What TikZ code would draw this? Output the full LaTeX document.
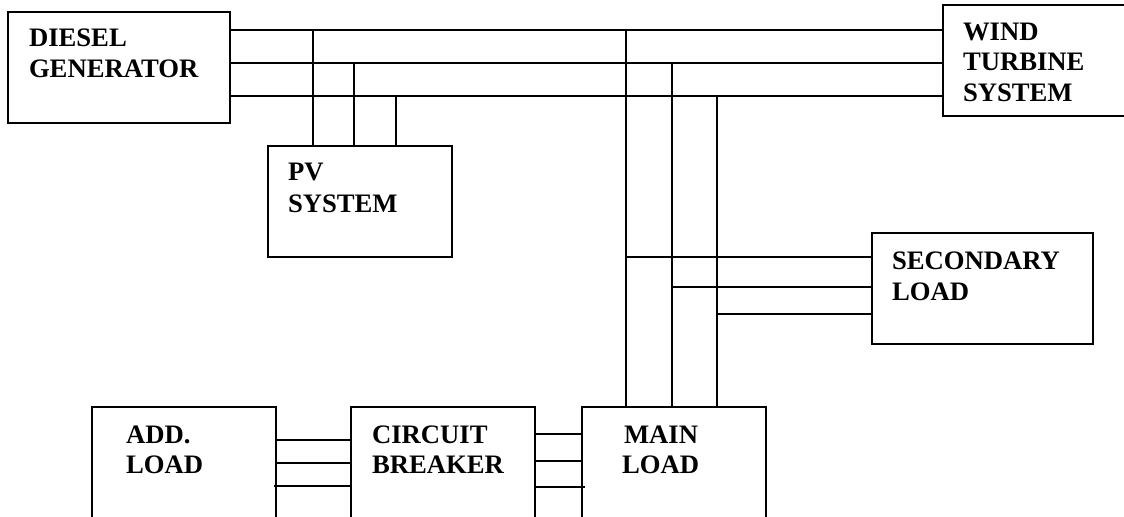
\documentclass[tikz,border=0pt]{standalone}
\usepackage{fontspec}
\setmainfont{Liberation Serif}
\tikzset{
  blockbox/.style n args={2}{draw=black,line width=1.2pt,rectangle,anchor=north west,inner sep=0pt,outer sep=0pt,
    minimum width={#1*0.75pt},minimum height={#2*0.75pt}},
  wire/.style={draw=black,line width=1.2pt},
  caption/.style={anchor=base west,inner sep=0pt,outer sep=0pt,text=black,font=\fontsize{20}{24}\selectfont\bfseries}
}
\begin{document}
\begin{tikzpicture}[x=0.75pt,y=-0.75pt]
\useasboundingbox (0,0) rectangle (1124,517);
\clip (0,0) rectangle (1124,517);
% blocks
\node[blockbox={222}{111}] (dg) at (8,12) {};
\node[blockbox={184}{111}] (pv) at (268,146) {};
\node[blockbox={200}{111}] (wt) at (943,5) {};
\node[blockbox={221}{111}] (sl) at (872,233) {};
\node[blockbox={184}{140}] (al) at (92,407) {};
\node[blockbox={184}{140}] (cb) at (351,407) {};
\node[blockbox={184}{140}] (ml) at (582,407) {};
% guide coordinates
\coordinate (ya) at (0,30);
\coordinate (yb) at (0,63);
\coordinate (yc) at (0,96);
\coordinate (xa) at (313,0);
\coordinate (xb) at (354,0);
\coordinate (xc) at (396,0);
\coordinate (xd) at (626,0);
\coordinate (xe) at (672,0);
\coordinate (xf) at (717,0);
\coordinate (yd) at (0,257);
\coordinate (ye) at (0,287);
\coordinate (yf) at (0,314);
\coordinate (yg) at (0,440);
\coordinate (yh) at (0,463);
\coordinate (yi) at (0,486);
\coordinate (yj) at (0,434);
\coordinate (yk) at (0,461);
\coordinate (yl) at (0,487);
% three buses between diesel generator and wind turbine
\draw[wire] (dg.east |- ya) -- (wt.west |- ya);
\draw[wire] (dg.east |- yb) -- (wt.west |- yb);
\draw[wire] (dg.east |- yc) -- (wt.west |- yc);
% drops to PV system
\draw[wire] (xa |- ya) -- (xa |- pv.north);
\draw[wire] (xb |- yb) -- (xb |- pv.north);
\draw[wire] (xc |- yc) -- (xc |- pv.north);
% drops to main load
\draw[wire] (xd |- ya) -- (xd |- ml.north);
\draw[wire] (xe |- yb) -- (xe |- ml.north);
\draw[wire] (xf |- yc) -- (xf |- ml.north);
% feeds to secondary load
\draw[wire] (xd |- yd) -- (sl.west |- yd);
\draw[wire] (xe |- ye) -- (sl.west |- ye);
\draw[wire] (xf |- yf) -- (sl.west |- yf);
% additional load to circuit breaker
\draw[wire] (al.east |- yg) -- (cb.west |- yg);
\draw[wire] (al.east |- yh) -- (cb.west |- yh);
\draw[wire] ([xshift=-1.5pt]al.east |- yi) -- (cb.west |- yi);
% circuit breaker to main load
\draw[wire] (cb.east |- yj) -- (ml.west |- yj);
\draw[wire] (cb.east |- yk) -- (ml.west |- yk);
\draw[wire] (cb.east |- yl) -- ([xshift=2pt]ml.west |- yl);
% captions
\node[caption] (t1) at (29,47) {DIESEL};
\node[caption] (t2) at (29,78) {GENERATOR};
\node[caption] (t3) at (288,180) {PV};
\node[caption] (t4) at (288,212) {SYSTEM};
\node[caption] (t5) at (963,41) {WIND};
\node[caption] (t6) at (963,71) {TURBINE};
\node[caption] (t7) at (963,102) {SYSTEM};
\node[caption] (t8) at (892,269) {SECONDARY};
\node[caption] (t9) at (892,300) {LOAD};
\node[caption] (t10) at (126,443) {ADD.};
\node[caption] (t11) at (126,473) {LOAD};
\node[caption] (t12) at (372,443) {CIRCUIT};
\node[caption] (t13) at (372,473) {BREAKER};
\node[caption] (t14) at (624,443) {MAIN};
\node[caption] (t15) at (622,473) {LOAD};
\end{tikzpicture}
\end{document}
